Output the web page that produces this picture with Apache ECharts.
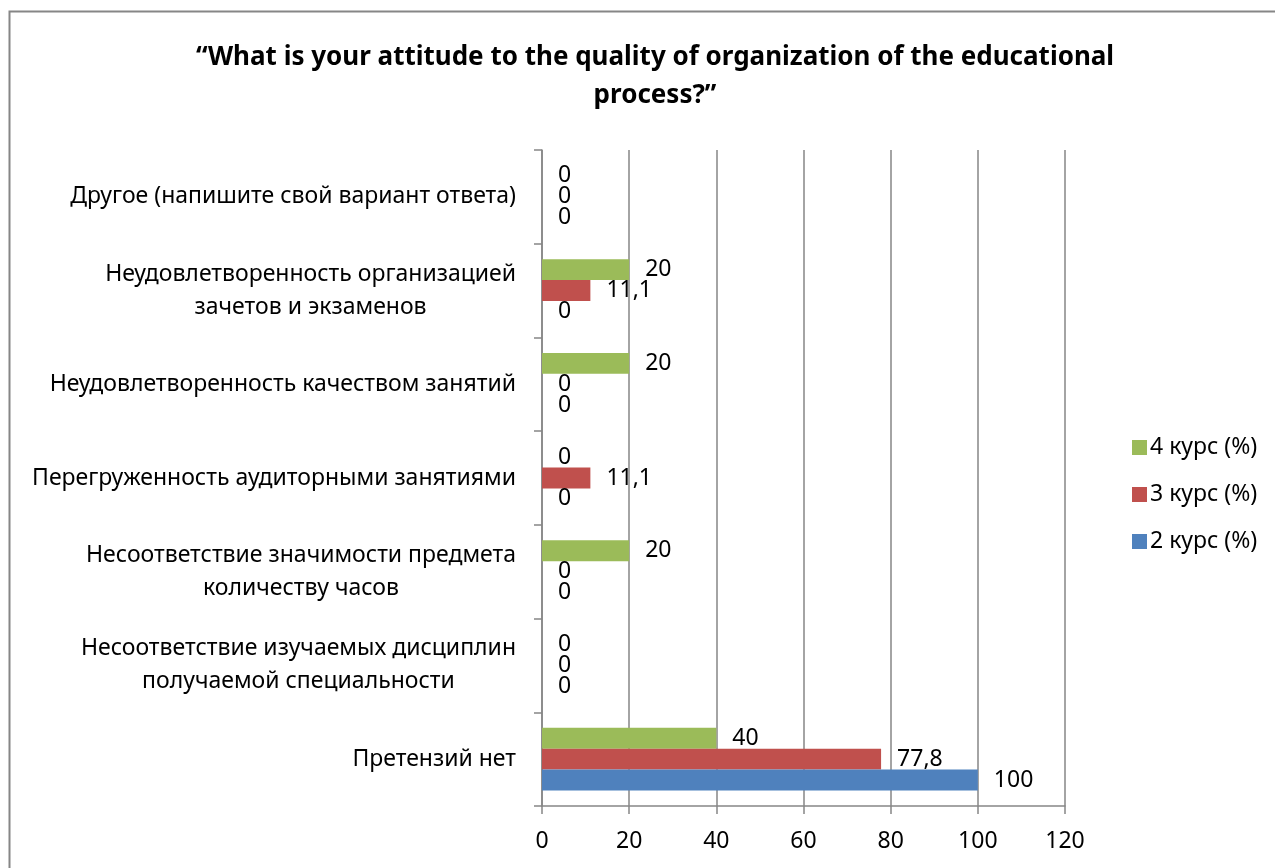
<!DOCTYPE html>
<html>
<head>
<meta charset="utf-8">
<script src="https://cdn.jsdelivr.net/npm/echarts@6/dist/echarts.min.js"></script>
<style>
  html, body { margin: 0; padding: 0; background: #fff; }
  #chart { width: 1275px; height: 868px; }
</style>
</head>
<body>
<div id="chart"></div>
<script>
// категории снизу вверх
const categories = [
  "Претензий нет",
  "Несоответствие изучаемых дисциплин\nполучаемой специальности",
  "Несоответствие значимости предмета\nколичеству часов",
  "Перегруженность аудиторными занятиями",
  "Неудовлетворенность качеством занятий",
  "Неудовлетворенность организацией\nзачетов и экзаменов",
  "Другое (напишите свой вариант ответа)"
];
const course2 = [100, 0, 0, 0, 0, 0, 0];
const course3 = [77.8, 0, 0, 11.1, 0, 11.1, 0];
const course4 = [40, 0, 20, 0, 20, 20, 0];
const xTicks = [0, 20, 40, 60, 80, 100, 120];

const FONT = "Noto Sans";
const SIZE = 23;
const grey = "#868686";

const chart = echarts.init(document.getElementById("chart"));

const label = {
  show: true,
  position: "right",
  distance: 16,
  color: "#000",
  fontFamily: FONT,
  fontSize: SIZE,
  formatter: (p) => String(p.value).replace(".", ",")
};

const option = {
  animation: false,
  title: {
    text: "“What is your attitude to the quality of organization of the educational\nprocess?”",
    left: 650,
    top: 34,
    textAlign: "center",
    textStyle: {
      fontFamily: FONT,
      fontWeight: "bold",
      fontSize: 26,
      lineHeight: 38,
      color: "#000"
    }
  },
  legend: {
    orient: "vertical",
    left: 1127,
    top: 431,
    itemWidth: 15,
    itemHeight: 15,
    itemGap: 24,
    icon: "rect",
    data: ["4 курс (%)", "3 курс (%)", "2 курс (%)"],
    textStyle: { fontFamily: FONT, fontSize: SIZE, color: "#000", padding: [0, 0, 0, -2] }
  },
  grid: { left: 542, right: 210, top: 150, bottom: 62, containLabel: false },
  xAxis: {
    type: "value",
    min: 0,
    max: 120,
    interval: 20,
    axisLine: { show: true, lineStyle: { color: grey, width: 1.5 } },
    axisTick: { show: true, length: 8, lineStyle: { color: grey, width: 1.5 } },
    splitLine: { show: true, lineStyle: { color: grey, width: 1.5 } },
    axisLabel: {
      margin: 24,
      color: "#000",
      fontFamily: FONT,
      fontSize: SIZE,
      formatter: (v) => (xTicks.includes(v) ? String(v) : "")
    }
  },
  yAxis: {
    type: "category",
    data: categories,
    axisLine: { show: true, lineStyle: { color: grey, width: 1.5 } },
    axisTick: { show: true, length: 8, lineStyle: { color: grey, width: 1.5 } },
    axisLabel: {
      margin: 26,
      formatter: (v) => v.split("\n").map((l) => "{c|" + l + "}").join("\n"),
      rich: {
        c: { align: "center", fontFamily: FONT, fontSize: SIZE, lineHeight: 33, color: "#000" }
      }
    }
  },
  // первая серия рисуется сверху в группе
  series: [
    { name: "4 курс (%)", type: "bar", data: course4, itemStyle: { color: "#9BBB59" },
      barGap: "0%", barCategoryGap: "33%", label },
    { name: "3 курс (%)", type: "bar", data: course3, itemStyle: { color: "#C0504D" },
      barGap: "0%", barCategoryGap: "33%", label },
    { name: "2 курс (%)", type: "bar", data: course2, itemStyle: { color: "#4F81BD" },
      barGap: "0%", barCategoryGap: "33%", label }
  ],
  graphic: [
    {
      type: "polyline",
      silent: true,
      shape: { points: [[9.5, 868], [9.5, 11.5], [1275, 11.5]] },
      style: { stroke: grey, lineWidth: 2, fill: null }
    }
  ]
};

chart.setOption(option);
</script>
</body>
</html>
